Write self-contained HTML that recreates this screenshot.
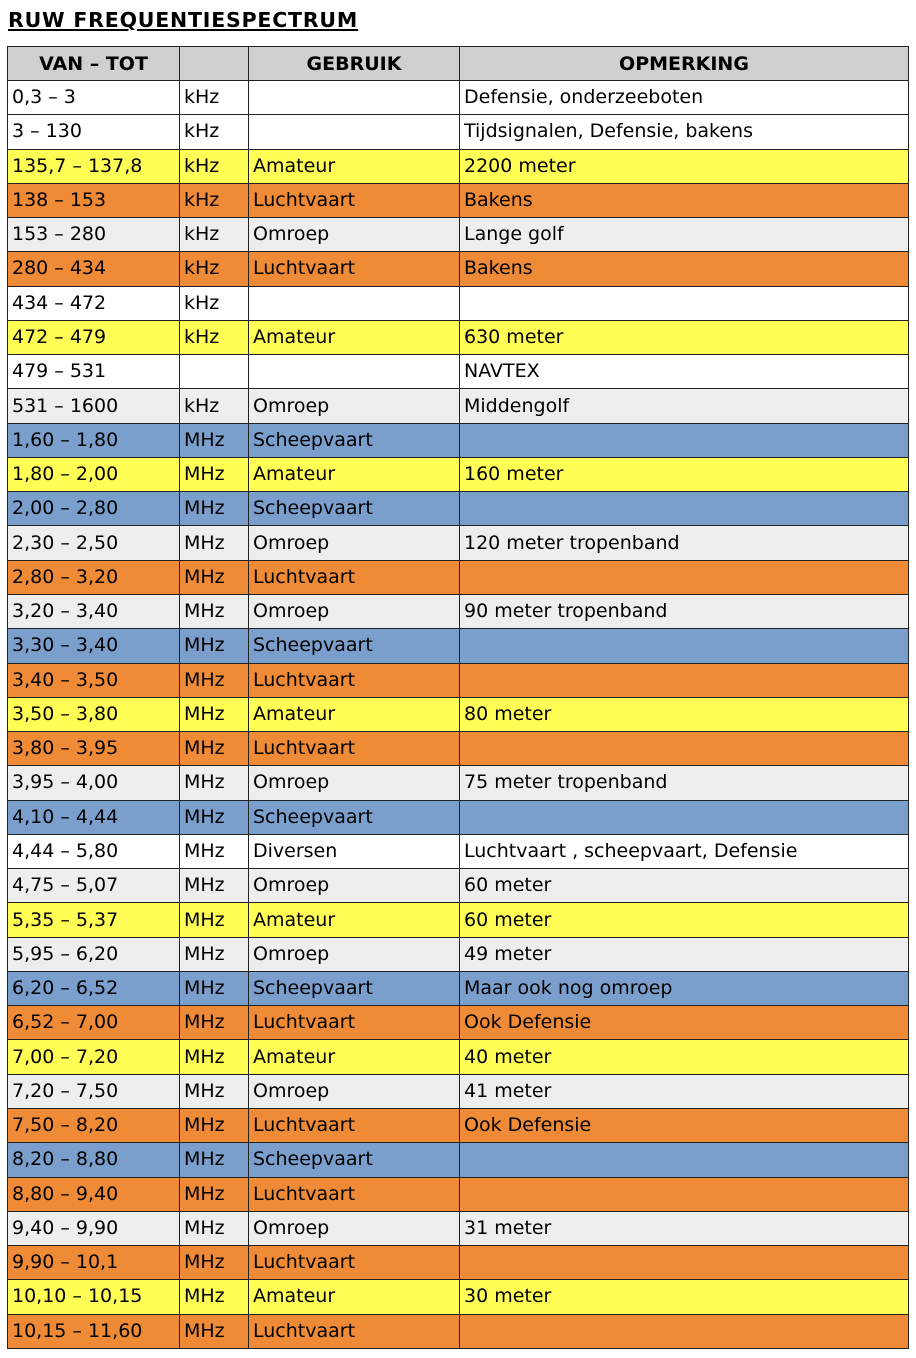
<!DOCTYPE html>
<html><head><meta charset="utf-8"><style>
body{margin:0;background:#fff;width:916px;height:1358px;overflow:hidden;font-family:"DejaVu Sans",Verdana,sans-serif;}
h1{position:absolute;left:8px;top:8px;margin:0;font-size:20.5px;font-weight:bold;text-decoration:underline;letter-spacing:0.8px;}
table{position:absolute;left:7px;top:46px;border-collapse:collapse;table-layout:fixed;width:901px;}
td{border:1.3px solid #222;height:33.27px;padding:0 0 0 4px;font-size:19px;white-space:nowrap;overflow:hidden;line-height:33px;box-sizing:border-box;}
th{border:1.3px solid #222;height:34px;padding:0;background:#d0d0d0;font-size:19px;font-weight:bold;text-align:center;box-sizing:border-box;line-height:30px;}
tr{height:34.27px;}
.w td{background:#fff}.g td{background:#eeeeee}.y td{background:#ffff55}.o td{background:#ef8a37}.b td{background:#7b9fcc}
</style></head><body>
<h1>RUW FREQUENTIESPECTRUM</h1>
<table>
<colgroup><col style="width:172px"><col style="width:69px"><col style="width:211px"><col style="width:449px"></colgroup>
<tr style="height:34px"><th>VAN – TOT</th><th></th><th>GEBRUIK</th><th>OPMERKING</th></tr>
<tr class="w"><td>0,3 – 3</td><td>kHz</td><td></td><td>Defensie, onderzeeboten</td></tr>
<tr class="w"><td>3 – 130</td><td>kHz</td><td></td><td>Tijdsignalen, Defensie, bakens</td></tr>
<tr class="y"><td>135,7 – 137,8</td><td>kHz</td><td>Amateur</td><td>2200 meter</td></tr>
<tr class="o"><td>138 – 153</td><td>kHz</td><td>Luchtvaart</td><td>Bakens</td></tr>
<tr class="g"><td>153 – 280</td><td>kHz</td><td>Omroep</td><td>Lange golf</td></tr>
<tr class="o"><td>280 – 434</td><td>kHz</td><td>Luchtvaart</td><td>Bakens</td></tr>
<tr class="w"><td>434 – 472</td><td>kHz</td><td></td><td></td></tr>
<tr class="y"><td>472 – 479</td><td>kHz</td><td>Amateur</td><td>630 meter</td></tr>
<tr class="w"><td>479 – 531</td><td></td><td></td><td>NAVTEX</td></tr>
<tr class="g"><td>531 – 1600</td><td>kHz</td><td>Omroep</td><td>Middengolf</td></tr>
<tr class="b"><td>1,60 – 1,80</td><td>MHz</td><td>Scheepvaart</td><td></td></tr>
<tr class="y"><td>1,80 – 2,00</td><td>MHz</td><td>Amateur</td><td>160 meter</td></tr>
<tr class="b"><td>2,00 – 2,80</td><td>MHz</td><td>Scheepvaart</td><td></td></tr>
<tr class="g"><td>2,30 – 2,50</td><td>MHz</td><td>Omroep</td><td>120 meter tropenband</td></tr>
<tr class="o"><td>2,80 – 3,20</td><td>MHz</td><td>Luchtvaart</td><td></td></tr>
<tr class="g"><td>3,20 – 3,40</td><td>MHz</td><td>Omroep</td><td>90 meter tropenband</td></tr>
<tr class="b"><td>3,30 – 3,40</td><td>MHz</td><td>Scheepvaart</td><td></td></tr>
<tr class="o"><td>3,40 – 3,50</td><td>MHz</td><td>Luchtvaart</td><td></td></tr>
<tr class="y"><td>3,50 – 3,80</td><td>MHz</td><td>Amateur</td><td>80 meter</td></tr>
<tr class="o"><td>3,80 – 3,95</td><td>MHz</td><td>Luchtvaart</td><td></td></tr>
<tr class="g"><td>3,95 – 4,00</td><td>MHz</td><td>Omroep</td><td>75 meter tropenband</td></tr>
<tr class="b"><td>4,10 – 4,44</td><td>MHz</td><td>Scheepvaart</td><td></td></tr>
<tr class="w"><td>4,44 – 5,80</td><td>MHz</td><td>Diversen</td><td>Luchtvaart , scheepvaart, Defensie</td></tr>
<tr class="g"><td>4,75 – 5,07</td><td>MHz</td><td>Omroep</td><td>60 meter</td></tr>
<tr class="y"><td>5,35 – 5,37</td><td>MHz</td><td>Amateur</td><td>60 meter</td></tr>
<tr class="g"><td>5,95 – 6,20</td><td>MHz</td><td>Omroep</td><td>49 meter</td></tr>
<tr class="b"><td>6,20 – 6,52</td><td>MHz</td><td>Scheepvaart</td><td>Maar ook nog omroep</td></tr>
<tr class="o"><td>6,52 – 7,00</td><td>MHz</td><td>Luchtvaart</td><td>Ook Defensie</td></tr>
<tr class="y"><td>7,00 – 7,20</td><td>MHz</td><td>Amateur</td><td>40 meter</td></tr>
<tr class="g"><td>7,20 – 7,50</td><td>MHz</td><td>Omroep</td><td>41 meter</td></tr>
<tr class="o"><td>7,50 – 8,20</td><td>MHz</td><td>Luchtvaart</td><td>Ook Defensie</td></tr>
<tr class="b"><td>8,20 – 8,80</td><td>MHz</td><td>Scheepvaart</td><td></td></tr>
<tr class="o"><td>8,80 – 9,40</td><td>MHz</td><td>Luchtvaart</td><td></td></tr>
<tr class="g"><td>9,40 – 9,90</td><td>MHz</td><td>Omroep</td><td>31 meter</td></tr>
<tr class="o"><td>9,90 – 10,1</td><td>MHz</td><td>Luchtvaart</td><td></td></tr>
<tr class="y"><td>10,10 – 10,15</td><td>MHz</td><td>Amateur</td><td>30 meter</td></tr>
<tr class="o"><td>10,15 – 11,60</td><td>MHz</td><td>Luchtvaart</td><td></td></tr>
</table>
</body></html>
